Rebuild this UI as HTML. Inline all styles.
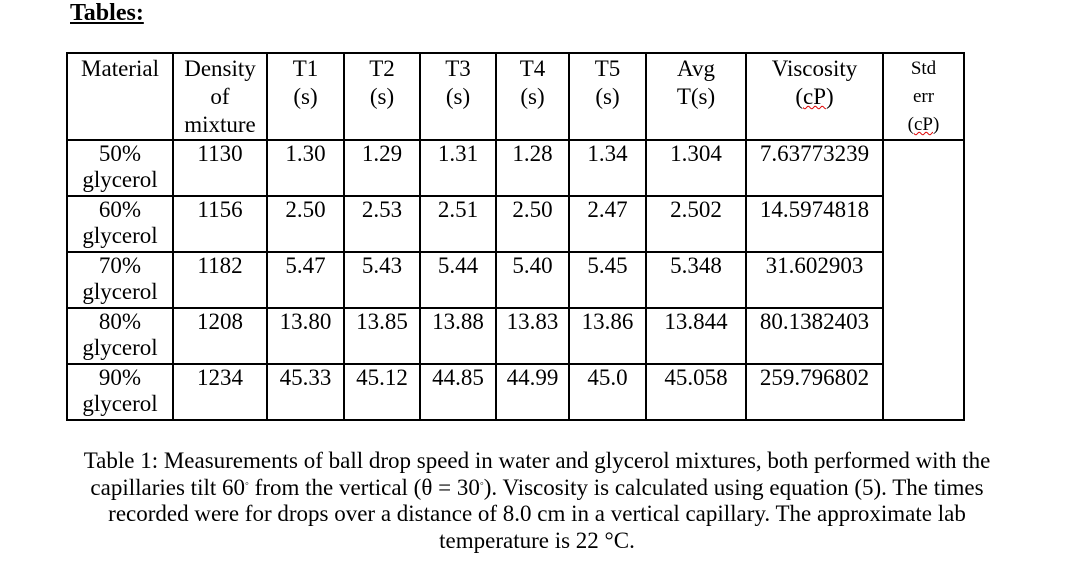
<!DOCTYPE html>
<html><head><meta charset="utf-8"><style>
body{margin:0;width:1074px;height:572px;background:#fff;font-family:"Liberation Serif",serif;color:#000;position:relative;overflow:hidden}
#title{position:absolute;left:70px;top:-1px;font-size:24px;line-height:28px;font-weight:bold;text-decoration:underline}
table{position:absolute;left:66px;top:52px;border-collapse:collapse;table-layout:fixed;font-size:23px;line-height:28px}
td{border:2px solid #000;text-align:center;vertical-align:top;padding:0;overflow:visible;white-space:nowrap}
tr.h td{height:83px;padding-top:1px}
tr.b td{height:54px;line-height:26px}
.sm{font-size:19px;line-height:28px}
.u{text-decoration:underline wavy #d00;text-decoration-thickness:1px}
#cap{position:absolute;left:0;width:1074px;top:448px;text-align:center;font-size:23px;line-height:26.5px}
.deg{position:relative;top:-8px;font-size:11px;line-height:0}
</style></head><body>
<div id="title">Tables:</div>
<table>
<colgroup><col style="width:106px"><col style="width:94px"><col style="width:77px"><col style="width:76px"><col style="width:76px"><col style="width:73px"><col style="width:77px"><col style="width:100px"><col style="width:137px"><col style="width:81px"></colgroup>
<tr class="h">
<td>Material</td><td>Density<br>of<br>mixture</td><td>T1<br>(s)</td><td>T2<br>(s)</td><td>T3<br>(s)</td><td>T4<br>(s)</td><td>T5<br>(s)</td><td>Avg<br>T(s)</td><td>Viscosity<br>(<span class="u">cP</span>)</td><td class="sm">Std<br>err<br>(<span class="u">cP</span>)</td></tr>
<tr class="b"><td>50%<br>glycerol</td><td>1130</td><td>1.30</td><td>1.29</td><td>1.31</td><td>1.28</td><td>1.34</td><td>1.304</td><td>7.63773239</td><td rowspan="5"></td></tr>
<tr class="b"><td>60%<br>glycerol</td><td>1156</td><td>2.50</td><td>2.53</td><td>2.51</td><td>2.50</td><td>2.47</td><td>2.502</td><td>14.5974818</td></tr>
<tr class="b"><td>70%<br>glycerol</td><td>1182</td><td>5.47</td><td>5.43</td><td>5.44</td><td>5.40</td><td>5.45</td><td>5.348</td><td>31.602903</td></tr>
<tr class="b"><td>80%<br>glycerol</td><td>1208</td><td>13.80</td><td>13.85</td><td>13.88</td><td>13.83</td><td>13.86</td><td>13.844</td><td>80.1382403</td></tr>
<tr class="b"><td>90%<br>glycerol</td><td>1234</td><td>45.33</td><td>45.12</td><td>44.85</td><td>44.99</td><td>45.0</td><td>45.058</td><td>259.796802</td></tr>
</table>
<div id="cap">Table 1: Measurements of ball drop speed in water and glycerol mixtures, both performed with the<br>capillaries tilt 60<span class="deg">◦</span> from the vertical (θ = 30<span class="deg">◦</span>). Viscosity is calculated using equation (5). The times<br>recorded were for drops over a distance of 8.0 cm in a vertical capillary. The approximate lab<br>temperature is 22 °C.</div>
</body></html>
